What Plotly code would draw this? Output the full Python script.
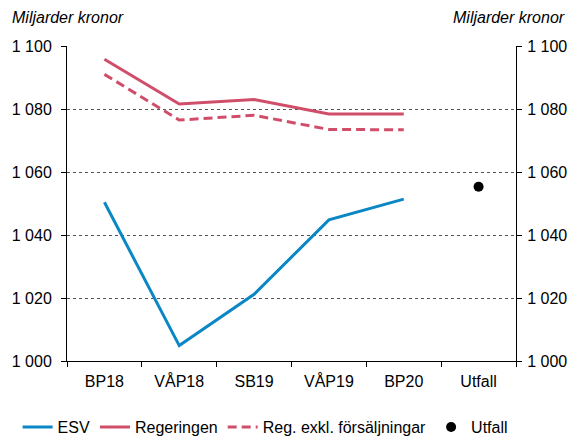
import plotly.graph_objects as go

categories = ["BP18", "VÅP18", "SB19", "VÅP19", "BP20", "Utfall"]
esv = [1050.4, 1004.9, 1021.2, 1044.8, 1051.4]
regeringen = [1095.8, 1081.6, 1083.0, 1078.4, 1078.4]
reg_exkl = [1091.0, 1076.5, 1078.0, 1073.5, 1073.4]
utfall_cat = ["Utfall"]
utfall = [1055.3]
ytick_vals = [1000, 1020, 1040, 1060, 1080, 1100]
ytick_text = ["1 000", "1 020", "1 040", "1 060", "1 080", "1 100"]

blue = "#0A87C4"
red = "#D04E69"
font = "Liberation Sans, Arial, sans-serif"
fs = 16

fig = go.Figure()
fig.add_trace(go.Scatter(x=categories[:5], y=esv, name="ESV", mode="lines",
                         line=dict(color=blue, width=3)))
fig.add_trace(go.Scatter(x=categories[:5], y=regeringen, name="Regeringen", mode="lines",
                         line=dict(color=red, width=3)))
fig.add_trace(go.Scatter(x=categories[:5], y=reg_exkl, name="Reg. exkl. försäljningar", mode="lines",
                         line=dict(color=red, width=3, dash="9px,5px")))
fig.add_trace(go.Scatter(x=utfall_cat, y=utfall, name="Utfall", mode="markers",
                         marker=dict(color="black", size=10)))
fig.add_trace(go.Scatter(x=utfall_cat, y=utfall, yaxis="y2", mode="markers",
                         marker=dict(opacity=0), showlegend=False, hoverinfo="skip"))

yaxis_common = dict(
    range=[1000, 1100], tickvals=ytick_vals, ticktext=ytick_text,
    ticks="outside", ticklen=5, tickcolor="black", showline=True,
    linecolor="black", linewidth=1, zeroline=False, automargin=False,
    tickfont=dict(family=font, size=fs, color="black"),
)

fig.update_layout(
    width=567, height=428,
    margin=dict(l=59, r=59, t=38, b=75, autoexpand=False),
    paper_bgcolor="white", plot_bgcolor="white",
    font=dict(family=font, size=fs, color="black"),
    xaxis=dict(type="category", categoryorder="array", categoryarray=categories,
               range=[-0.5, 5.5], tickson="boundaries", ticks="outside", ticklen=5,
               tickcolor="black", showline=True, linecolor="black", linewidth=1,
               showgrid=False, automargin=False, ticklabelstandoff=6,
               tickfont=dict(family=font, size=fs, color="black")),
    yaxis=dict(**yaxis_common, ticklabelstandoff=6,
               showgrid=True, gridcolor="#555555", griddash="dot", gridwidth=1),
    yaxis2=dict(**yaxis_common, ticklabelstandoff=2, overlaying="y", side="right", showgrid=False),
    legend=dict(orientation="h", x=-0.11, xanchor="left", y=-0.21, yanchor="middle",
                font=dict(family=font, size=fs, color="black"), itemwidth=30,
                tracegroupgap=0, bgcolor="rgba(0,0,0,0)"),
    showlegend=True,
    annotations=[
        dict(text="<i>Miljarder kronor</i>", xref="paper", yref="paper", x=-0.127, y=1.0,
             xanchor="left", yanchor="bottom", yshift=18, showarrow=False,
             font=dict(family=font, size=fs, color="black")),
        dict(text="<i>Miljarder kronor</i>", xref="paper", yref="paper", x=1.113, y=1.0,
             xanchor="right", yanchor="bottom", yshift=18, showarrow=False,
             font=dict(family=font, size=fs, color="black")),
    ],
)

fig.write_html("out.html")
